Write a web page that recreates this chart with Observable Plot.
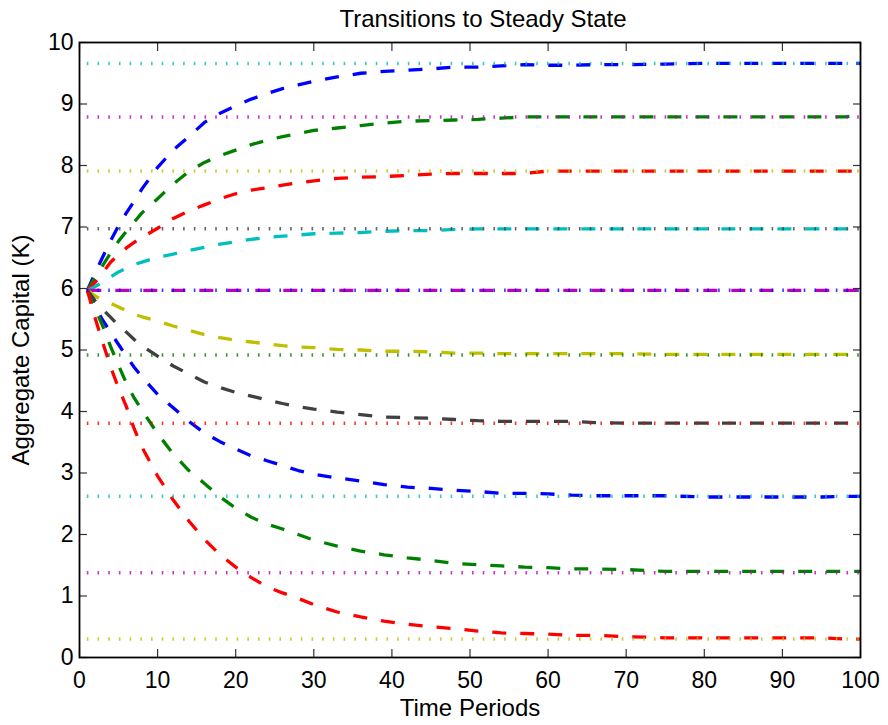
<!DOCTYPE html>
<html>
<head>
<meta charset="utf-8">
<script src="https://cdn.jsdelivr.net/npm/d3@7"></script>
<script src="https://cdn.jsdelivr.net/npm/@observablehq/plot@0.6"></script>
<style>
  html, body { margin: 0; padding: 0; background: #fff; }
  #chart { width: 888px; height: 725px; }
</style>
</head>
<body>
<div id="chart"></div>
<script>
// Time periods at which the simulated paths are recorded
const periods = [1,2,3,4,5,6,7,8,10,12,14,16,18,20,22,24,26,28,30,33,36,39,42,45,48,51,54,57,60,63,66,70,75,80,85,90,95,98,100];

// Aggregate capital along each transition path (one array per economy)
const pathK1  = [5.97,6.25,6.52,6.78,7.02,7.23,7.42,7.62,7.97,8.25,8.47,8.70,8.85,8.97,9.08,9.17,9.25,9.31,9.37,9.44,9.50,9.53,9.55,9.57,9.60,9.60,9.62,9.64,9.63,9.63,9.64,9.64,9.65,9.66,9.66,9.66,9.66,9.66,9.66];
const pathK2  = [5.97,6.18,6.38,6.58,6.77,6.93,7.08,7.23,7.46,7.70,7.90,8.05,8.16,8.25,8.34,8.41,8.47,8.52,8.57,8.61,8.65,8.69,8.72,8.73,8.74,8.75,8.77,8.79,8.79,8.79,8.79,8.79,8.79,8.79,8.79,8.79,8.79,8.79,8.82];
const pathK3  = [5.97,6.10,6.26,6.43,6.55,6.66,6.75,6.83,6.98,7.14,7.26,7.36,7.46,7.54,7.60,7.64,7.68,7.72,7.75,7.79,7.81,7.82,7.84,7.86,7.87,7.87,7.87,7.87,7.91,7.91,7.91,7.91,7.91,7.91,7.91,7.91,7.91,7.91,7.91];
const pathK4  = [5.97,6.03,6.11,6.19,6.27,6.33,6.39,6.43,6.51,6.56,6.62,6.67,6.72,6.76,6.80,6.83,6.85,6.87,6.89,6.90,6.91,6.93,6.94,6.94,6.96,6.97,6.97,6.97,6.97,6.97,6.97,6.97,6.97,6.97,6.97,6.97,6.97,6.97,6.97];
const pathK5  = [5.97,5.97,5.97,5.97,5.97,5.97,5.97,5.97,5.97,5.97,5.97,5.97,5.97,5.97,5.97,5.97,5.97,5.97,5.97,5.97,5.97,5.97,5.97,5.97,5.97,5.97,5.97,5.97,5.97,5.97,5.97,5.97,5.97,5.97,5.97,5.97,5.97,5.97,5.97];
const pathK6  = [5.97,5.88,5.80,5.76,5.70,5.64,5.58,5.54,5.47,5.39,5.32,5.25,5.20,5.16,5.13,5.10,5.07,5.05,5.04,5.01,5.00,4.98,4.98,4.97,4.95,4.95,4.94,4.94,4.94,4.94,4.94,4.94,4.93,4.93,4.93,4.93,4.93,4.93,4.93];
const pathK7  = [5.97,5.80,5.66,5.53,5.40,5.29,5.17,5.07,4.90,4.74,4.61,4.48,4.39,4.31,4.25,4.19,4.13,4.08,4.04,3.99,3.95,3.91,3.90,3.89,3.87,3.85,3.84,3.84,3.84,3.84,3.82,3.81,3.81,3.81,3.81,3.81,3.81,3.81,3.81];
const pathK8  = [5.97,5.70,5.48,5.28,5.09,4.90,4.72,4.56,4.28,4.06,3.84,3.65,3.51,3.39,3.28,3.20,3.12,3.04,2.98,2.92,2.87,2.81,2.77,2.75,2.72,2.70,2.67,2.67,2.66,2.64,2.63,2.63,2.63,2.61,2.61,2.61,2.61,2.62,2.62];
const pathK9  = [5.97,5.68,5.38,5.05,4.75,4.46,4.22,4.02,3.64,3.31,3.04,2.83,2.61,2.43,2.28,2.17,2.09,2.00,1.91,1.81,1.73,1.67,1.62,1.58,1.53,1.51,1.49,1.47,1.46,1.44,1.44,1.43,1.40,1.40,1.40,1.40,1.40,1.40,1.40];
const pathK10 = [5.97,5.52,5.11,4.72,4.38,4.08,3.72,3.42,2.95,2.56,2.22,1.92,1.67,1.47,1.30,1.15,1.05,0.96,0.86,0.74,0.66,0.59,0.54,0.50,0.47,0.43,0.40,0.39,0.38,0.36,0.36,0.34,0.32,0.32,0.32,0.32,0.32,0.30,0.30];

// Steady-state capital of each economy
const steadyStates = [9.66, 8.79, 7.91, 6.97, 5.97, 4.92, 3.81, 2.62, 1.38, 0.30];

// Axis ticks
const xTicks = [0,10,20,30,40,50,60,70,80,90,100];
const yTicks = [0,1,2,3,4,5,6,7,8,9,10];

// MATLAB-style default colour order (b, g, r, c, m, y, k)
const colorOrder = ["#0000FF", "#008000", "#FF0000", "#00BFBF", "#BF00BF", "#BFBF00", "#404040"];

const paths = [pathK1, pathK2, pathK3, pathK4, pathK5, pathK6, pathK7, pathK8, pathK9, pathK10];

const font = "'Liberation Sans', Arial, Helvetica, sans-serif";

// Dashed transition paths, coloured in plotting order
const pathMarks = paths.map((vals, i) =>
  Plot.line(periods.map((t, j) => ({t, k: vals[j]})), {
    x: "t", y: "k",
    stroke: colorOrder[i % 7],
    strokeWidth: 3.3,
    strokeDasharray: "14,14",
    strokeLinecap: "butt",
    strokeLinejoin: "round"
  })
);

// Dotted steady-state levels, continuing the colour order after the paths
const steadyMarks = steadyStates.map((k, i) =>
  Plot.ruleY([k], {
    x1: periods[0],
    x2: periods[periods.length - 1],
    stroke: colorOrder[(i + paths.length) % 7],
    strokeWidth: 3.5,
    strokeOpacity: 0.8,
    strokeDasharray: "1.6,9.1",
    strokeLinecap: "butt"
  })
);

const chart = Plot.plot({
  width: 888,
  height: 725,
  marginLeft: 79,
  marginRight: 28,
  marginTop: 42,
  marginBottom: 68,
  x: {domain: [0, 100]},
  y: {domain: [0, 10]},
  style: {fontFamily: font, fontSize: "23px", background: "#fff", color: "#000"},
  marks: [
    ...pathMarks,
    ...steadyMarks,
    Plot.axisX({
      ticks: xTicks, tickSize: -8, tickPadding: 22, stroke: "#333", strokeWidth: 1.2,
      fontSize: 23, label: "Time Periods", labelAnchor: "center", labelOffset: 58, labelArrow: "none"
    }),
    Plot.axisX({anchor: "top", ticks: xTicks, tickSize: -8, stroke: "#333", strokeWidth: 1.2, tickFormat: () => "", label: null}),
    Plot.axisY({
      ticks: yTicks, tickSize: -8, tickPadding: 14, stroke: "#333", strokeWidth: 1.2,
      fontSize: 23, label: "Aggregate Capital (K)", labelAnchor: "center", labelOffset: 68, labelArrow: "none"
    }),
    Plot.axisY({anchor: "right", ticks: yTicks, tickSize: -8, stroke: "#333", strokeWidth: 1.2, tickFormat: () => "", label: null}),
    Plot.frame({stroke: "#000", strokeWidth: 1.8}),
    Plot.text(["Transitions to Steady State"], {frameAnchor: "top", dx: 13, dy: -33, fontSize: 24, fill: "#000"})
  ]
});

// Axis titles are a touch larger than the tick labels
chart.querySelectorAll("[aria-label$='axis label'] text").forEach(t => t.setAttribute("font-size", 24));

document.getElementById("chart").appendChild(chart);
</script>
</body>
</html>
